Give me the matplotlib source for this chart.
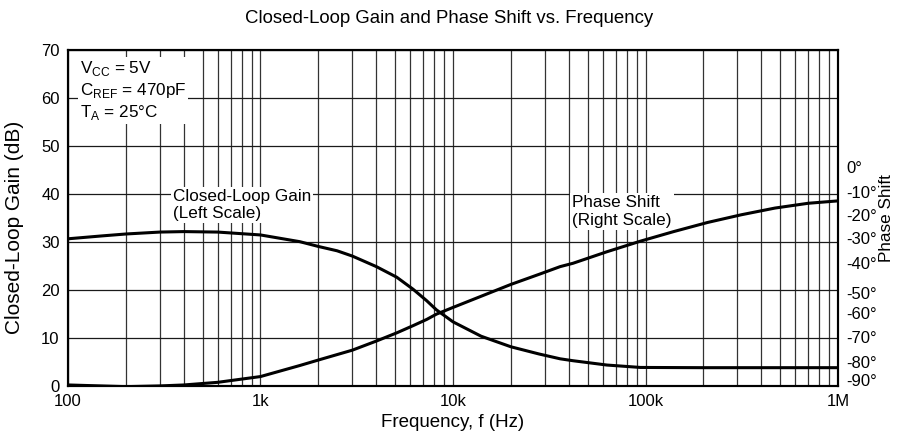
import numpy as np
import matplotlib.pyplot as plt
from matplotlib.ticker import FixedLocator, NullFormatter

plt.rcParams['font.family'] = ['Liberation Sans', 'DejaVu Sans']

# Closed-loop gain (dB)
gain_freq = [100, 150, 200, 300, 400, 600, 1000, 1600, 2000, 2500, 3000, 4000, 5100,
             6200, 7300, 8200, 10000, 14000, 20000, 28000, 36000, 42000, 63000,
             94000, 200000, 1000000]
gain_db = [30.6, 31.2, 31.6, 32.0, 32.1, 32.0, 31.4, 30.0, 29.0, 28.1, 27.0, 24.8, 22.6,
           20.1, 17.7, 15.8, 13.3, 10.3, 8.1, 6.6, 5.6, 5.2, 4.3,
           3.8, 3.75, 3.75]

# Phase shift (degrees), right scale
phase_freq = [100, 200, 300, 400, 600, 1000, 1600, 2000, 3000, 4000, 5100, 6200,
              7300, 8200, 10000, 20000, 28000, 36000, 42000, 63000, 94000,
              140000, 210000, 314000, 470000, 700000, 1000000]
phase_deg = [-90.9, -91.6, -91.3, -90.9, -89.8, -87.4, -82.8, -80.5, -76.4, -72.6,
             -69.2, -66.2, -63.6, -61.4, -58.6, -49.0, -44.8, -41.6, -40.2, -35.4,
             -31.0, -27.0, -23.2, -20.0, -17.2, -15.2, -14.2]

x_ticks = [100, 1000, 10000, 100000, 1000000]
x_labels = ['100', '1k', '10k', '100k', '1M']
gain_ticks = [0, 10, 20, 30, 40, 50, 60, 70]
phase_labels = ['0°', '-10°', '-20°', '-30°', '-40°', '-50°', '-60°', '-70°', '-80°', '-90°']
# the right-hand labels are not evenly spaced in the original
phase_label_pos = [0, -10.4, -20.1, -29.7, -40.0, -52.4, -60.9, -70.8, -81.2, -88.8]

fig = plt.figure(figsize=(8.99, 4.45), dpi=100)
ax = fig.add_axes([0.0756, 0.1333, 0.8566, 0.7551])
ax2 = ax.twinx()

ax.set_xscale('log')
ax.set_xlim(100, 1e6)
ax.set_ylim(0, 70)
ax2.set_ylim(-91.2, 48.8)

# grid
minor = [m * 10 ** d for d in range(2, 6) for m in range(2, 10)]
ax.xaxis.set_major_locator(FixedLocator(x_ticks))
ax.xaxis.set_minor_locator(FixedLocator(minor))
ax.xaxis.set_minor_formatter(NullFormatter())
ax.set_xticklabels(x_labels)
ax.set_yticks(gain_ticks)
ax.grid(True, which='both', axis='x', color='0.2', lw=0.9)
ax.grid(True, which='major', axis='y', color='0.1', lw=0.9)
ax.set_axisbelow(True)

ax.plot(gain_freq, gain_db, color='black', lw=2.2, zorder=3)
ax2.plot(phase_freq, phase_deg, color='black', lw=2.2, zorder=3)

ax2.set_yticks(phase_label_pos)
ax2.set_yticklabels(phase_labels)

ax.tick_params(which='both', length=0, labelsize=12, pad=6)
ax2.tick_params(which='both', length=0, labelsize=12, pad=6)
for a in (ax, ax2):
    for s in a.spines.values():
        s.set_linewidth(1.5)

ax.set_xlabel('Frequency, f (Hz)', fontsize=13.5, labelpad=3.5)
ax.set_ylabel('Closed-Loop Gain (dB)', fontsize=15)
ax.yaxis.set_label_coords(-0.057, 0.47)
ax2.set_ylabel('Phase Shift', fontsize=12.3, labelpad=1.5)
fig.suptitle('Closed-Loop Gain and Phase Shift vs. Frequency', fontsize=13.4,
             y=0.959, va='center')

box = dict(facecolor='white', edgecolor='none', pad=1.5)
ax.text(115, 68.1,
        'V$_{\\mathregular{CC}}$ = 5V\n'
        'C$_{\\mathregular{REF}}$ = 470pF\n'
        'T$_{\\mathregular{A}}$ = 25°C',
        fontsize=12.3, va='top', ha='left', linespacing=1.22, bbox=box, zorder=2)
ax.text(352, 37.6, 'Closed-Loop Gain\n(Left Scale)', fontsize=12.3,
        va='center', ha='left', linespacing=1.15, bbox=box, zorder=2)
ax.text(41500, 36.2, 'Phase Shift\n(Right Scale)', fontsize=12.3,
        va='center', ha='left', linespacing=1.25, bbox=box, zorder=2)

plt.savefig('out.png', dpi=100)
